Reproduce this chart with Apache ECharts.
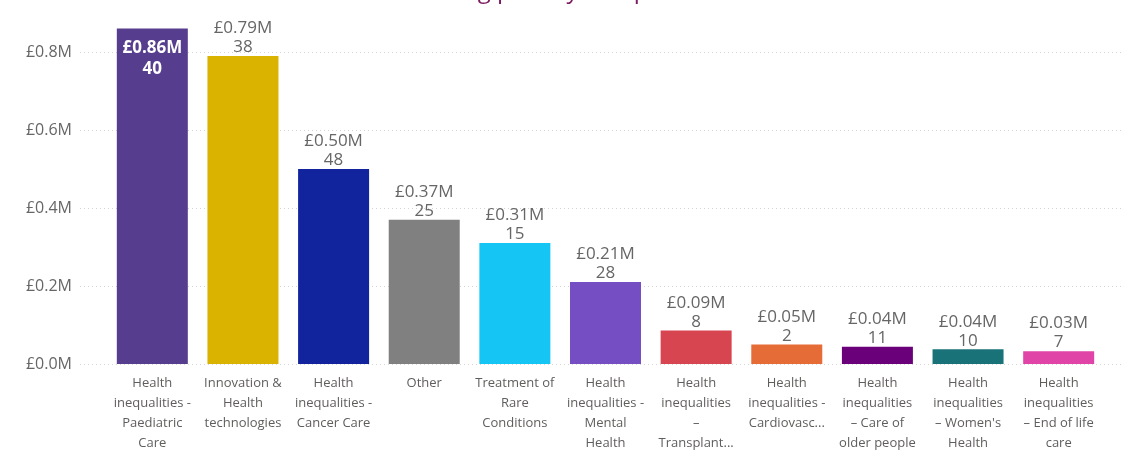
<!DOCTYPE html>
<html>
<head>
<meta charset="utf-8">
<script src="https://cdn.jsdelivr.net/npm/echarts@6/dist/echarts.min.js"></script>
<style>
  html, body { margin: 0; padding: 0; background: #fff; }
  #chart { width: 1123px; height: 450px; }
</style>
</head>
<body>
<div id="chart"></div>
<script>
// Funding (in £M) and number of projects per priority area
const categories = [
  'Health\ninequalities -\nPaediatric\nCare',
  'Innovation &\nHealth\ntechnologies',
  'Health\ninequalities -\nCancer Care',
  'Other',
  'Treatment of\nRare\nConditions',
  'Health\ninequalities -\nMental\nHealth',
  'Health\ninequalities\n–\nTransplant...',
  'Health\ninequalities -\nCardiovasc...',
  'Health\ninequalities\n– Care of\nolder people',
  'Health\ninequalities\n– Women\'s\nHealth',
  'Health\ninequalities\n– End of life\ncare'
];
const fundingM = [0.86, 0.79, 0.50, 0.37, 0.31, 0.21, 0.086, 0.05, 0.044, 0.038, 0.033];
const projectCounts = [40, 38, 48, 25, 15, 28, 8, 2, 11, 10, 7];
const barColors = ['#563D8E', '#D9B300', '#12239E', '#808080', '#15C6F4', '#744EC2',
                   '#D64550', '#E66C37', '#6B007B', '#197278', '#E044A7'];
const yTicks = [0, 0.2, 0.4, 0.6, 0.8];

const FONT = '"Open Sans", "Segoe UI", sans-serif';
const Y_MIN = 0, Y_MAX = 1.0, Y_STEP = 0.2;
const gridTop = -26, gridBottom = 86;

const chart = echarts.init(document.getElementById('chart'), null, { renderer: 'canvas' });

const barData = fundingM.map((v, i) => {
  const item = { value: v, itemStyle: { color: barColors[i] } };
  if (i === 0) {
    // tallest bar carries its label inside
    item.label = {
      position: 'insideTop', distance: 8, offset: [0, 1], color: '#ffffff',
      fontWeight: 'bold', lineHeight: 21
    };
  }
  return item;
});

chart.setOption({
  animation: false,
  graphic: [{
    type: 'text', left: 343, top: -21,
    style: { text: 'Total funding priority and portfolio', fill: '#7B1A5E',
             font: '24px ' + FONT }
  }],
  grid: [
    { left: 80, right: 0, top: gridTop, bottom: gridBottom, outerBoundsMode: 'none', containLabel: false },
    { left: 107, right: 19, top: gridTop, bottom: gridBottom, outerBoundsMode: 'none', containLabel: false }
  ],
  xAxis: [
    { gridIndex: 0, type: 'category', data: categories, show: false },
    {
      gridIndex: 1, type: 'category', data: categories,
      axisLine: { show: false }, axisTick: { show: false },
      axisLabel: {
        interval: 0, margin: 9, color: '#605E5C', fontSize: 13,
        lineHeight: 20, fontFamily: FONT, align: 'center'
      }
    }
  ],
  yAxis: [
    {
      gridIndex: 0, type: 'value', min: Y_MIN, max: Y_MAX, interval: Y_STEP,
      axisLine: { show: false }, axisTick: { show: false },
      axisLabel: {
        margin: 8, color: '#666666', fontSize: 16, fontFamily: FONT,
        showMaxLabel: false,
        formatter: v => yTicks.some(t => Math.abs(t - v) < 1e-9) ? '£' + v.toFixed(1) + 'M' : ''
      },
      splitLine: { lineStyle: { color: '#D4D4D4', type: [1, 3], width: 1 } }
    },
    {
      gridIndex: 1, type: 'value', min: Y_MIN, max: Y_MAX, interval: Y_STEP,
      show: false, splitLine: { show: false }
    }
  ],
  series: [{
    type: 'bar', xAxisIndex: 1, yAxisIndex: 1, barWidth: 71,
    data: barData,
    label: {
      show: true, position: 'top', distance: 5, offset: [0, 6],
      color: '#666666', fontSize: 17, lineHeight: 19, fontFamily: FONT,
      formatter: p => '£' + p.value.toFixed(2) + 'M\n' + projectCounts[p.dataIndex]
    }
  }]
});
</script>
</body>
</html>
